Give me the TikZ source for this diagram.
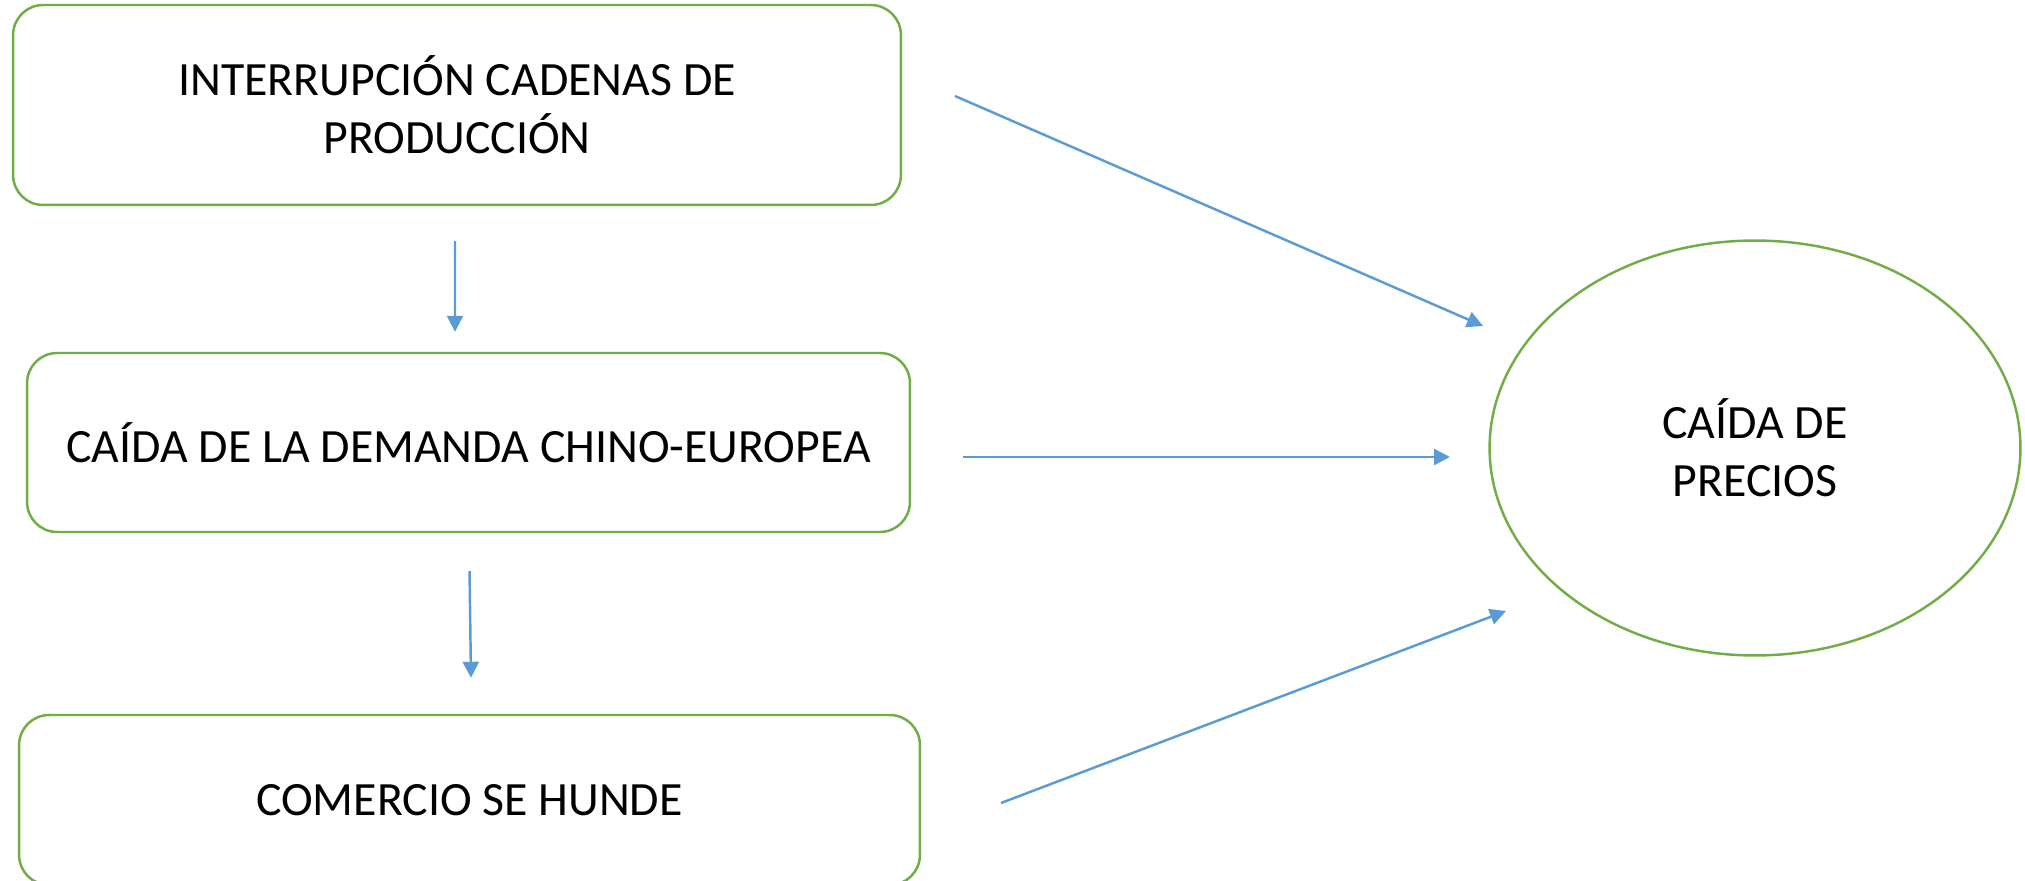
\documentclass[tikz,border=0pt]{standalone}
\usepackage{fontspec}
\setmainfont{Carlito}
\usetikzlibrary{arrows.meta, shapes.geometric}
\definecolor{boxgreen}{HTML}{70AD47}
\definecolor{arrblue}{HTML}{5B9BD5}
\tikzset{
caja/.style = {draw=boxgreen, line width=1.4pt, rounded corners=0.6cm, inner sep=0pt, align=center, font=\fontsize{27.2}{33.2}\selectfont},
flecha/.style = {draw=arrblue, line width=1.4pt, -{Triangle[length=0.32cm, width=0.32cm]}}
}

\begin{document}
\begin{tikzpicture}[x=0.02cm, y=-0.02cm]
\useasboundingbox (0,0) rectangle (2025,881);
\node[caja, minimum width=17.76cm, minimum height=4cm] (interr) at (457,105) {INTERRUPCIÓN CADENAS DE\\PRODUCCIÓN};
\node[caja, minimum width=17.66cm, minimum height=3.58cm] (caida) at (468.5,442.5) {CAÍDA DE LA DEMANDA CHINO-EUROPEA};
\node[caja, minimum width=18.02cm, minimum height=3.4cm] (comercio) at (469.5,800) {COMERCIO SE HUNDE};
\node[caja, ellipse, minimum width=10.62cm, minimum height=8.3cm] (precios) at (1755,448) {CAÍDA DE\\PRECIOS};
% free ends of the arrows
\coordinate (interr-out) at (955,96);
\coordinate (precios-in1) at (1483,326);
\coordinate (caida-out) at (963,457);
\coordinate (precios-in2) at (1450,457);
\coordinate (comercio-out) at (1001,803);
\coordinate (precios-in3) at (1506,611);
\draw[flecha, shorten <=0.7cm, shorten >=0.4cm] ([xshift=-0.04cm]interr.south) -- ([xshift=-0.27cm]caida.north);
\draw[flecha, shorten <=0.76cm, shorten >=0.72cm] ([xshift=0.01cm]caida.south) -- ([xshift=0.04cm]comercio.north);
\draw[flecha] (interr-out) -- (precios-in1);
\draw[flecha] (caida-out) -- (precios-in2);
\draw[flecha] (comercio-out) -- (precios-in3);
\end{tikzpicture}
\end{document}
